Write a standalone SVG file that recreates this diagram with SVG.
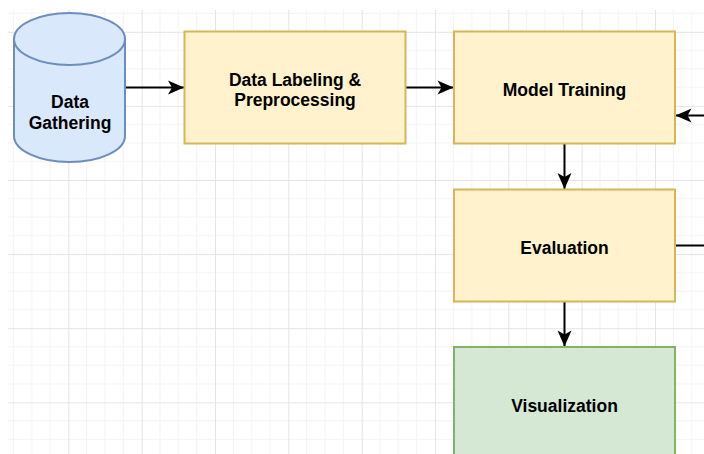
<svg xmlns="http://www.w3.org/2000/svg" width="704" height="454" viewBox="0 0 704 454">
  <style>
    .label { font-family: "Liberation Sans", Arial, sans-serif; font-weight: bold; font-size: 17.5px; fill: #000; text-anchor: middle; }
    .yellow { fill: #fff2cc; stroke: #d6b656; stroke-width: 2; }
    .green { fill: #d5e8d4; stroke: #82b366; stroke-width: 2; }
    .blue { fill: #dae8fc; stroke: #6c8ebf; stroke-width: 2; }
    .edge { fill: none; stroke: #000; stroke-width: 2; }
    .minor { stroke: #f3f3f3; stroke-width: 1; }
    .major { stroke: #e4e4e4; stroke-width: 1; }
  </style>
  <defs>
    <pattern id="grid" patternUnits="userSpaceOnUse" x="-5" y="31.8" width="73.33" height="74.1">
      <line class="minor" x1="18.33" y1="0" x2="18.33" y2="74.1"/>
      <line class="minor" x1="36.67" y1="0" x2="36.67" y2="74.1"/>
      <line class="minor" x1="55" y1="0" x2="55" y2="74.1"/>
      <line class="minor" x1="0" y1="18.5" x2="73.33" y2="18.5"/>
      <line class="minor" x1="0" y1="37" x2="73.33" y2="37"/>
      <line class="minor" x1="0" y1="55.6" x2="73.33" y2="55.6"/>
      <line class="major" x1="0.5" y1="0" x2="0.5" y2="74.1"/>
      <line class="major" x1="0" y1="0.5" x2="73.33" y2="0.5"/>
    </pattern>
    <marker id="arrow" markerUnits="userSpaceOnUse" viewBox="-17 -8 18 16" refX="0" refY="0" markerWidth="18" markerHeight="16" orient="auto">
      <path d="M0,0 L-16,-7 L-12,0 L-16,7 Z" fill="#000"/>
    </marker>
  </defs>

  <rect width="704" height="454" fill="#ffffff"/>
  <rect x="8" y="10" width="696" height="444" fill="url(#grid)"/>

  <g id="connectors">
    <path class="edge" d="M125,87.5 H184" marker-end="url(#arrow)"/>
    <path class="edge" d="M405.5,87.5 H453.5" marker-end="url(#arrow)"/>
    <path class="edge" d="M564.5,143.5 V189" marker-end="url(#arrow)"/>
    <path class="edge" d="M564.5,301.5 V346.5" marker-end="url(#arrow)"/>
    <path class="edge" d="M675,245.5 H730 V115.5 H675.5" marker-end="url(#arrow)"/>
  </g>

  <g id="data-gathering">
    <path class="blue" d="M14,39 A55.5,26 0 0 1 125,39 V136 A55.5,26 0 0 1 14,136 Z"/>
    <path class="blue" d="M14,39 A55.5,26 0 0 0 125,39" fill="none"/>
    <text class="label" x="70" y="108.3">Data</text>
    <text class="label" x="70" y="128.5">Gathering</text>
  </g>

  <g id="data-labeling">
    <rect class="yellow" x="184.5" y="31.5" width="221" height="112"/>
    <text class="label" x="295" y="85.8">Data Labeling &amp;</text>
    <text class="label" x="295" y="106.3">Preprocessing</text>
  </g>

  <g id="model-training">
    <rect class="yellow" x="454" y="31.5" width="221" height="112"/>
    <text class="label" x="564.5" y="96">Model Training</text>
  </g>

  <g id="evaluation">
    <rect class="yellow" x="454" y="189.5" width="221" height="112"/>
    <text class="label" x="564.5" y="254">Evaluation</text>
  </g>

  <g id="visualization">
    <rect class="green" x="454" y="347" width="221" height="112"/>
    <text class="label" x="564.5" y="411.7">Visualization</text>
  </g>
</svg>
